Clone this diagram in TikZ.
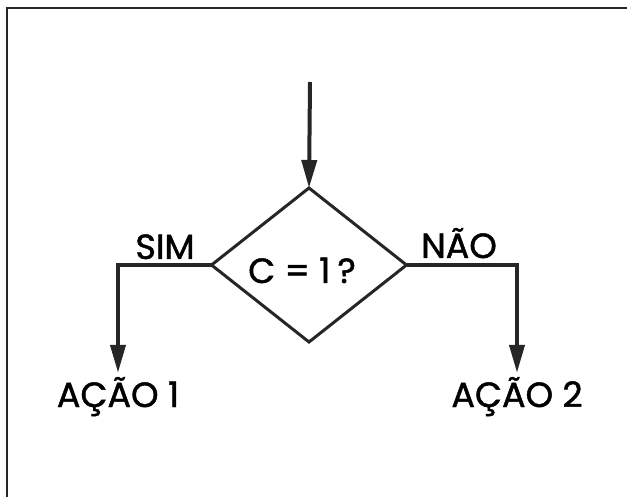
\documentclass[tikz,border=0pt]{standalone}
\usepackage{fontspec}
\setmainfont{Poppins}[FakeBold=1.3]
\usetikzlibrary{shapes.geometric,arrows.meta}
\definecolor{ink}{HTML}{262626}
\tikzset{
  conn/.style={draw=ink, line width=4pt, line join=miter},
  head/.style={-{Triangle[length=28pt,width=15pt]}},
  frameline/.style={draw=ink, line width=2.5pt},
  lbl/.style={font=\fontsize{35}{40}\selectfont, text=black, inner sep=0pt, anchor=base},
  decision/.style={diamond, draw=ink, line width=3pt, minimum width=195pt, minimum height=154pt, inner sep=0pt, outer sep=0pt}
}
\begin{document}
\begin{tikzpicture}[x=1pt,y=-1pt]
\useasboundingbox (0,0) rectangle (627,497);
% frame
\coordinate (fl) at (7,497);
\coordinate (fc) at (7,8);
\coordinate (fr) at (627,8);
\draw[frameline] (fl) -- (fc) -- (fr);
% decision
\node[decision] (d) at (309,265) {};
\node[lbl] (q) at (302,283) {C = 1\kern7pt?};
% entry
\coordinate (in) at (310,82);
\draw[conn, head] (in) -- (d.north);
% labels
\node[lbl] (sim) at (165,259) {SIM};
\node[lbl] (nao) at (459,258) {NÃO};
\node[lbl] (a1) at (118,407) {AÇÃO 1};
\node[lbl] (a2) at (517,407) {AÇÃO 2};
% branches
\draw[conn, head, shorten >=4pt] (d.west) -| (a1.north);
\draw[conn, head, shorten >=4pt] (d.east) -| (a2.north);
\end{tikzpicture}
\end{document}
